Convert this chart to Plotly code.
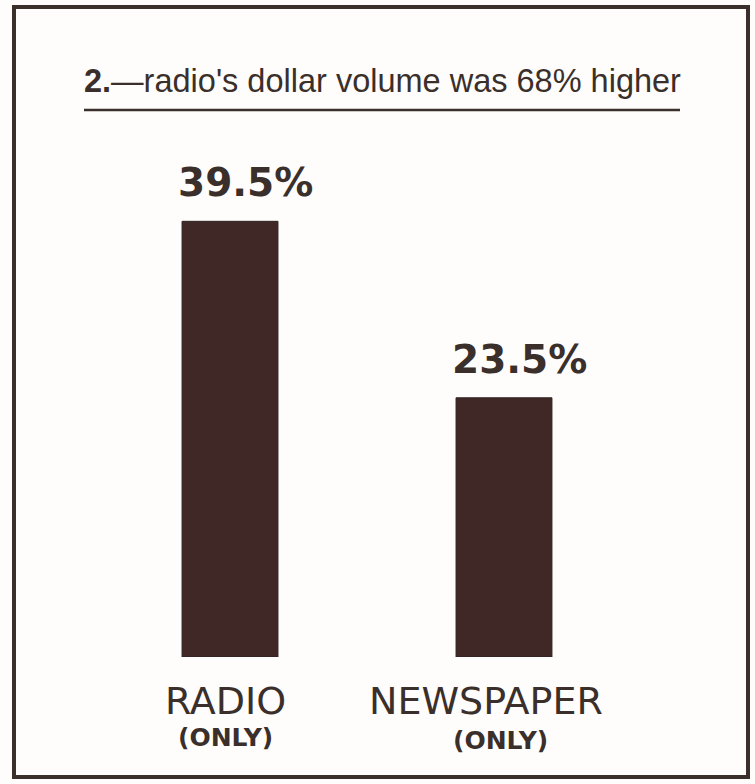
import plotly.graph_objects as go

categories = ["RADIO", "NEWSPAPER"]
values = [39.5, 23.5]
value_labels = ["39.5%", "23.5%"]
sub_labels = ["(ONLY)", "(ONLY)"]
title_text = "<b>2.</b>—radio's dollar volume was 68% higher"

W, H = 755, 784
INK = "#3a2f2a"
BAR = "#3f2826"

fig = go.Figure()
fig.add_trace(go.Bar(
    x=[0, 1], y=values, width=0.35,
    marker=dict(color=BAR, line=dict(color="#2e2220", width=1)),
    hoverinfo="skip",
))

# value labels above bars
for i, (v, lab) in enumerate(zip(values, value_labels)):
    fig.add_annotation(x=i, y=v, text=f"<b>{lab}</b>", showarrow=False,
                       xref="x", yref="y", yanchor="bottom", yshift=14, xshift=15,
                       font=dict(family="DejaVu Sans", size=39, color=INK))

# category labels
xshifts = [-5, -18]
sub_shifts = [-5, -4]
for i, (c, s) in enumerate(zip(categories, sub_labels)):
    fig.add_annotation(x=i, y=0, text=c, showarrow=False, xref="x", yref="y",
                       yanchor="top", yshift=-20, xshift=xshifts[i],
                       font=dict(family="DejaVu Sans", size=38, color=INK))
    fig.add_annotation(x=i, y=0, text=f"<b>{s}</b>", showarrow=False, xref="x", yref="y",
                       yanchor="top", yshift=-64 - (3 if i else 0), xshift=sub_shifts[i],
                       font=dict(family="DejaVu Sans", size=25, color=INK))

# title
fig.add_annotation(x=382 / W, y=1 - 81 / H, xref="paper", yref="paper",
                   text=title_text, showarrow=False, xanchor="center", yanchor="middle",
                   font=dict(family="Liberation Sans", size=32.5, color=INK))
fig.add_shape(type="line", xref="paper", yref="paper",
              x0=84 / W, x1=680 / W, y0=1 - 110 / H, y1=1 - 110 / H,
              line=dict(color=INK, width=2.5))
# border
fig.add_shape(type="rect", xref="paper", yref="paper",
              x0=14 / W, x1=748 / W, y0=1 - 777 / H, y1=1 - 7 / H,
              line=dict(color=INK, width=4))

px_per_unit = 11.03
bottom_px = 657
unit_px = 274
fig.update_layout(
    width=W, height=H,
    margin=dict(l=0, r=0, t=0, b=0),
    paper_bgcolor="#fefdfb", plot_bgcolor="rgba(0,0,0,0)",
    showlegend=False,
    xaxis=dict(range=[-230 / unit_px, (W - 230) / unit_px], visible=False, fixedrange=True),
    yaxis=dict(domain=[(H - bottom_px) / H, 1], range=[0, bottom_px / px_per_unit],
               visible=False, fixedrange=True),
)

fig.write_html("out.html")
